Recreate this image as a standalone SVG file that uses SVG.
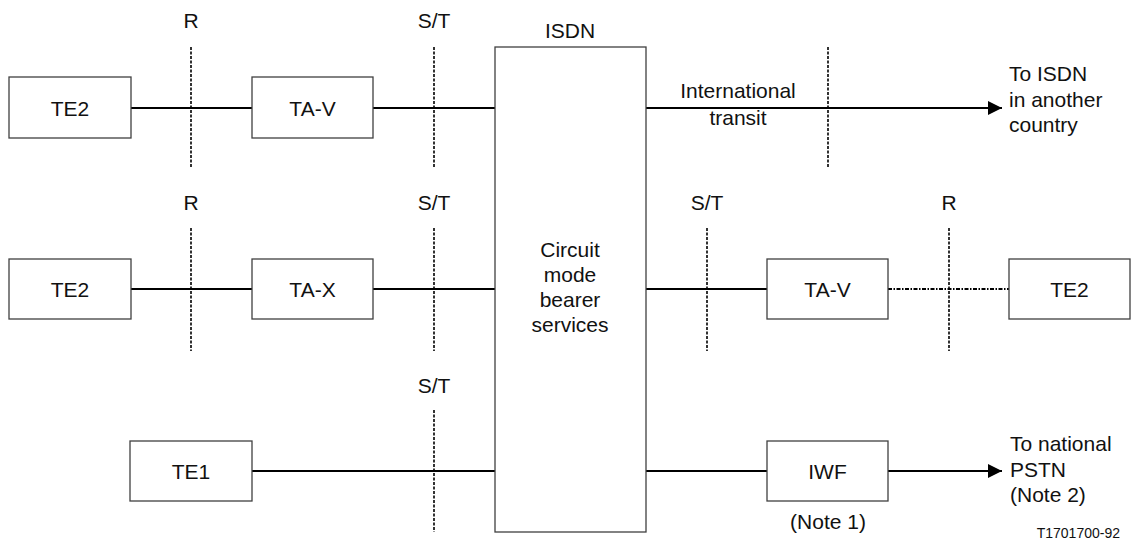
<svg xmlns="http://www.w3.org/2000/svg" width="1131" height="540" viewBox="0 0 1131 540">
<defs>
<marker id="arr" viewBox="0 0 10 10" refX="10" refY="5" markerWidth="14" markerHeight="14" markerUnits="userSpaceOnUse" orient="auto">
<path d="M0,0 L10,5 L0,10 z" fill="#000"/>
</marker>
<style>
.box{fill:#fff;stroke:#404040;stroke-width:1.3}
.t{font-family:"Liberation Sans",Arial,sans-serif;font-size:21px;fill:#111;text-anchor:middle}
.tl{font-family:"Liberation Sans",Arial,sans-serif;font-size:21px;fill:#111;text-anchor:start}
.small{font-family:"Liberation Sans",Arial,sans-serif;font-size:14px;fill:#111;text-anchor:end}
.ln{stroke:#000;stroke-width:2;fill:none}
.dot{stroke:#000;stroke-width:1.6;stroke-dasharray:3 1.5;fill:none}
.dd{stroke:#000;stroke-width:2;stroke-dasharray:4 1.5 1.5 1.5;fill:none}
</style>
</defs>
<rect width="1131" height="540" fill="#fff"/>
<g id="connectors">
<line class="ln" x1="131" y1="108" x2="252" y2="108"/>
<line class="ln" x1="373" y1="108" x2="495" y2="108"/>
<line class="ln" x1="646" y1="108" x2="1002" y2="108" marker-end="url(#arr)"/>
<line class="ln" x1="131" y1="289" x2="252" y2="289"/>
<line class="ln" x1="373" y1="289" x2="495" y2="289"/>
<line class="ln" x1="646" y1="289" x2="767" y2="289"/>
<line class="dd" x1="888" y1="289" x2="1009" y2="289"/>
<line class="ln" x1="252" y1="471" x2="495" y2="471"/>
<line class="ln" x1="646" y1="471" x2="767" y2="471"/>
<line class="ln" x1="888" y1="471" x2="1002" y2="471" marker-end="url(#arr)"/>
</g>
<g id="reference-points">
<line class="dot" x1="191" y1="47" x2="191" y2="168"/>
<line class="dot" x1="434" y1="47" x2="434" y2="168"/>
<line class="dot" x1="828" y1="47" x2="828" y2="168"/>
<line class="dot" x1="191" y1="228" x2="191" y2="351"/>
<line class="dot" x1="434" y1="228" x2="434" y2="351"/>
<line class="dot" x1="707" y1="228" x2="707" y2="351"/>
<line class="dot" x1="949" y1="228" x2="949" y2="351"/>
<line class="dot" x1="434" y1="410" x2="434" y2="532"/>
<text class="t" x="191" y="28">R</text>
<text class="t" x="434" y="28">S/T</text>
<text class="t" x="191" y="210">R</text>
<text class="t" x="434" y="210">S/T</text>
<text class="t" x="707" y="210">S/T</text>
<text class="t" x="949" y="210">R</text>
<text class="t" x="434" y="393">S/T</text>
</g>
<g id="isdn">
<rect class="box" x="495" y="47" width="151" height="485"/>
<text class="t" x="570" y="38">ISDN</text>
<text class="t" x="570" y="257">Circuit</text>
<text class="t" x="570" y="282">mode</text>
<text class="t" x="570" y="307">bearer</text>
<text class="t" x="570" y="332">services</text>
</g>
<g id="te2-a"><rect class="box" x="9" y="77" width="122" height="61"/><text class="t" x="70" y="115.5">TE2</text></g>
<g id="ta-v-a"><rect class="box" x="252" y="77" width="121" height="61"/><text class="t" x="312.5" y="115.5">TA-V</text></g>
<g id="te2-b"><rect class="box" x="9" y="259" width="122" height="60"/><text class="t" x="70" y="296.5">TE2</text></g>
<g id="ta-x"><rect class="box" x="252" y="259" width="121" height="60"/><text class="t" x="312.5" y="296.5">TA-X</text></g>
<g id="te1"><rect class="box" x="130" y="441" width="122" height="60"/><text class="t" x="191" y="478.5">TE1</text></g>
<g id="ta-v-b"><rect class="box" x="767" y="259" width="121" height="60"/><text class="t" x="827.5" y="296.5">TA-V</text></g>
<g id="te2-c"><rect class="box" x="1009" y="259" width="121" height="60"/><text class="t" x="1069.5" y="296.5">TE2</text></g>
<g id="iwf"><rect class="box" x="767" y="441" width="121" height="60"/><text class="t" x="827.5" y="478.5">IWF</text><text class="t" x="828" y="529">(Note 1)</text></g>
<g id="labels">
<text class="t" x="738" y="98">International</text>
<text class="t" x="738" y="125">transit</text>
<text class="tl" x="1009" y="81">To ISDN</text>
<text class="tl" x="1009" y="107">in another</text>
<text class="tl" x="1009" y="132">country</text>
<text class="tl" x="1010" y="451">To national</text>
<text class="tl" x="1010" y="477">PSTN</text>
<text class="tl" x="1010" y="502">(Note 2)</text>
<text class="small" x="1120" y="538">T1701700-92</text>
</g>
</svg>
